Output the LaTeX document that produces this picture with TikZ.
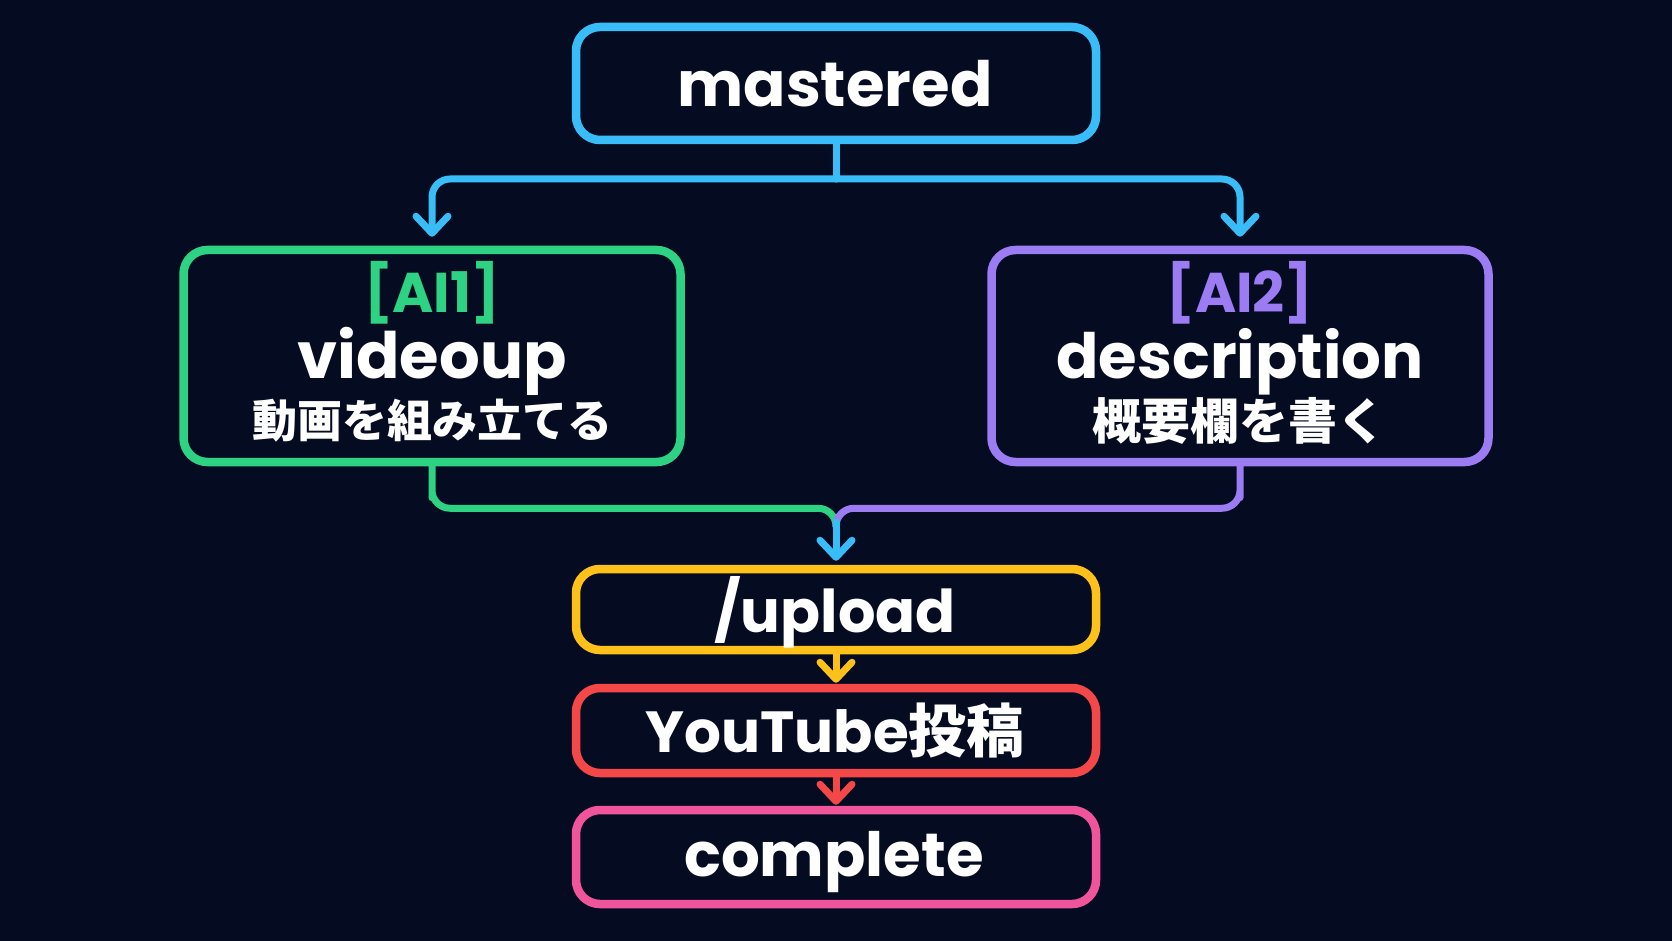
\documentclass[tikz,border=0pt]{standalone}
\usepackage{fontspec}
\setmainfont{Poppins}
\newfontfamily\jp{Noto Sans CJK JP}
\usetikzlibrary{arrows.meta}
\definecolor{bg}{HTML}{050C22}
\definecolor{cblue}{HTML}{38BDF8}
\definecolor{cgreen}{HTML}{2DD283}
\definecolor{cpurple}{HTML}{9B7CF2}
\definecolor{cyellow}{HTML}{FDC11A}
\definecolor{cred}{HTML}{F44848}
\definecolor{cpink}{HTML}{F0559C}
\begin{document}
\begin{tikzpicture}[x=1pt,y=-1pt,
  box/.style={draw=#1, line width=8.5pt, rounded corners=24pt, inner sep=0pt},
  conn/.style={draw=#1, line width=7pt, line cap=round, line join=round, rounded corners=18pt},
  tip/.style={-{Straight Barb[round,length=17pt,width=32pt]}},
  big/.style={text=white, inner sep=0pt, anchor=base, font=\fontsize{#1}{70}\selectfont\bfseries},
  big/.default=64,
  tag/.style={inner sep=0pt, anchor=base, font=\fontsize{56}{62}\selectfont\bfseries},
  sub/.style={text=white, inner sep=0pt, anchor=center, font=\fontsize{#1}{50}\selectfont\jp\bfseries},
  sub/.default=45
]
\fill[bg] (0,0) rectangle (1672,941);
\useasboundingbox (0,0) rectangle (1672,941);

% boxes
\node[box=cblue, minimum width=520pt, minimum height=113pt] (m) at (836,83.5) {};
\node[box=cgreen, minimum width=497pt, minimum height=212pt] (a1) at (432,356) {};
\node[box=cpurple, minimum width=497pt, minimum height=212pt] (a2) at (1240,356) {};
\node[box=cyellow, minimum width=520pt, minimum height=81pt] (up) at (836,609.5) {};
\node[box=cred, minimum width=520pt, minimum height=85pt] (yt) at (836,730.5) {};
\node[box=cpink, minimum width=520pt, minimum height=94pt] (cp) at (836,857) {};

% texts
\node[big=62.5] (tm) at (835,107) {mastered};
\node[tag, text=cgreen] (t1a) at (432,312) {[AI1]};
\node[big] (t1b) at (432,378) {videoup};
\node[sub] (t1c) at (432,421) {動画を組み立てる};
\node[tag, text=cpurple] (t2a) at (1240,312) {[AI2]};
\node[big=62.5] (t2b) at (1240,378) {description};
\node[sub=49] (t2c) at (1239,421) {概要欄を書く};
\node[big=59] (tu) at (835,632) {/upload};
\node[big=58] (ty) at (835,752) {YouTube{\jp\bfseries 投稿}};
\node[big=61] (tc) at (834,876) {complete};

% connectors
\coordinate (split) at (836,179);
\coordinate (merge) at (836,522);
\draw[conn=cblue] (m.south) -- (split);
\draw[conn=cblue, tip, shorten >=9pt] (split) -| (a1.north);
\draw[conn=cblue, tip, shorten >=9pt] (split) -| (a2.north);
\draw[conn=cgreen] (a1.south) |- ++(0,42) -| (merge);
\draw[conn=cpurple] (a2.south) |- ++(0,42) -| (merge);
\draw[conn=cblue, tip, shorten >=4pt] (merge) -- (up.north);
\draw[conn=cyellow, tip, shorten >=1pt] (up.south) -- (yt.north);
\draw[conn=cred, tip, shorten >=1pt] (yt.south) -- (cp.north);
\end{tikzpicture}
\end{document}
